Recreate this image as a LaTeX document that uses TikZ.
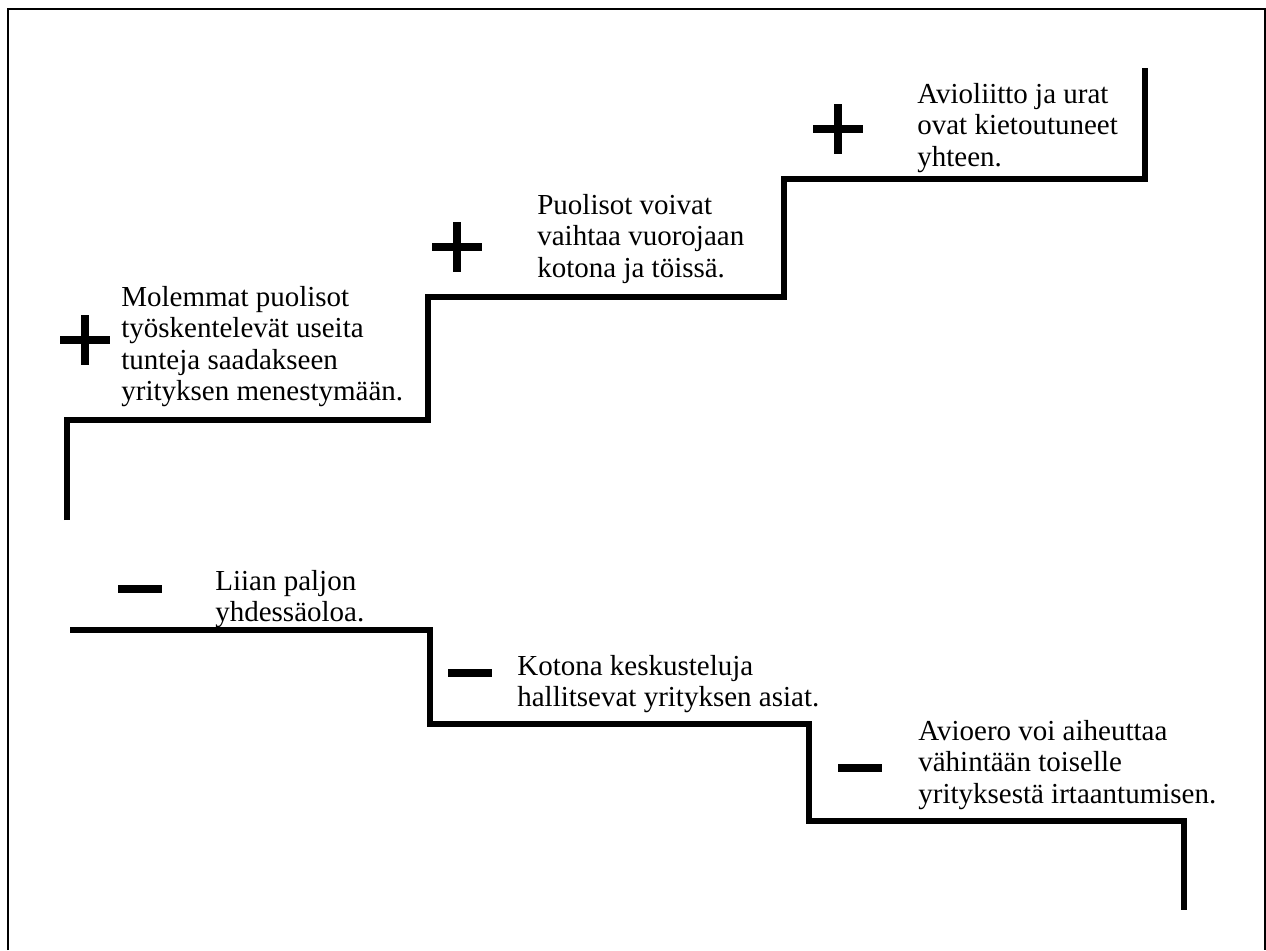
\documentclass[tikz,border=0pt]{standalone}
\usepackage{fontspec}
\setmainfont{Liberation Serif}
\tikzset{
	stair/.style={line width=3.7pt, line join=miter},
	sign/.style={line width=4.3pt},
	note/.style={anchor=north west, inner sep=0pt, align=left, font=\fontsize{16.5}{17.9}\selectfont}
}
\begin{document}
\begin{tikzpicture}[x=0.02cm, y=-0.02cm]
		\useasboundingbox (0,0) rectangle (1266,950);
		\draw[line width=0.6pt] (8,950) -- (8,9) -- (1265,9) -- (1265,950);

		\draw[stair] (67,520) -- (67,420) -- (428,420) -- (428,297) -- (784,297) -- (784,179) -- (1145,179) -- (1145,68);
		\draw[stair] (70,630) -- (430,630) -- (430,724) -- (809,724) -- (809,821) -- (1184,821) -- (1184,910);

		\draw[sign] (60,340) -- (110,340) (85,315) -- (85,365);
		\draw[sign] (432,247) -- (482,247) (457,222) -- (457,272);
		\draw[sign] (813,129) -- (863,129) (838,104) -- (838,154);

		\draw[sign] (118,589) -- (162,589);
		\draw[sign] (448,673) -- (492,673);
		\draw[sign] (838,768) -- (882,768);

		\node[note] (hours) at (121,286) {Molemmat puolisot\\työskentelevät useita\\tunteja saadakseen\\yrityksen menestymään.};
		\node[note] (shifts) at (537,194) {Puolisot voivat\\vaihtaa vuorojaan\\kotona ja töissä.};
		\node[note] (careers) at (917,83) {Avioliitto ja urat\\ovat kietoutuneet\\yhteen.};

		\node[note] (together) at (215,570) {Liian paljon\\yhdessäoloa.};
		\node[note] (talks) at (517,655) {Kotona keskusteluja\\hallitsevat yrityksen asiat.};
		\node[note] (divorce) at (918,720) {Avioero voi aiheuttaa\\vähintään toiselle\\yrityksestä irtaantumisen.};
	\end{tikzpicture}
\end{document}
